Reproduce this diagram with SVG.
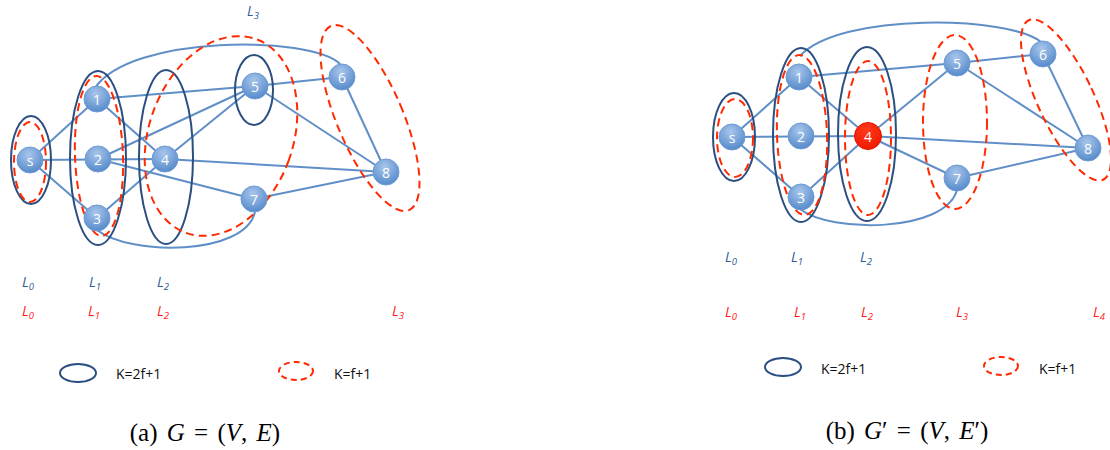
<svg xmlns="http://www.w3.org/2000/svg" width="1110" height="450" viewBox="0 0 1110 450">
<defs>
<radialGradient id="gb" cx="0.45" cy="0.3" r="0.75">
<stop offset="0" stop-color="#a9c6ec"/>
<stop offset="1" stop-color="#4f86c8"/>
</radialGradient>
<radialGradient id="gr" cx="0.45" cy="0.3" r="0.75">
<stop offset="0" stop-color="#ff3a1a"/>
<stop offset="1" stop-color="#f01800"/>
</radialGradient>
</defs>
<style>
.e{fill:none;stroke:#5f8fc6;stroke-width:2}
.kb{fill:none;stroke:#2a4f80;stroke-width:2}
.kr{fill:none;stroke:#ff2a00;stroke-width:2;stroke-dasharray:8 5}
.n circle{fill:url(#gb);stroke:#6e9bd3;stroke-width:1}
.n text{font-family:"Open Sans","Liberation Sans",sans-serif;font-size:14px;fill:#ffffff;text-anchor:middle;dominant-baseline:central}
.nr circle{fill:url(#gr);stroke:#e01500}
.lb{font-family:"Open Sans","Liberation Sans",sans-serif;font-style:italic;font-size:14px;fill:#2e5c98}
.lr{font-family:"Open Sans","Liberation Sans",sans-serif;font-style:italic;font-size:14px;fill:#ff1a1a}
.sub{font-size:9.5px}
.lg{font-family:"Open Sans","Liberation Sans",sans-serif;font-size:14px;fill:#111111;dominant-baseline:central}
.cap{font-family:"Liberation Serif",serif;font-size:25px;fill:#000000;text-anchor:middle;word-spacing:3px}
.it{font-style:italic}
</style>

<!-- ================= Graph (a) ================= -->
<g id="connectors-a">
<line class="e" x1="30" y1="160" x2="97" y2="99"/>
<line class="e" x1="30" y1="160" x2="165" y2="159"/>
<line class="e" x1="30" y1="160" x2="97" y2="218"/>
<line class="e" x1="97" y1="99" x2="255" y2="86"/>
<line class="e" x1="97" y1="99" x2="165" y2="159"/>
<path class="e" d="M95 88 C130 35 310 35 340 64"/>
<line class="e" x1="98" y1="159" x2="255" y2="86"/>
<line class="e" x1="98" y1="159" x2="254" y2="199"/>
<line class="e" x1="97" y1="218" x2="165" y2="159"/>
<path class="e" d="M97 230 C130 256 245 256 255 212"/>
<line class="e" x1="165" y1="159" x2="255" y2="86"/>
<line class="e" x1="165" y1="159" x2="386" y2="172"/>
<line class="e" x1="255" y1="86" x2="342" y2="77"/>
<line class="e" x1="255" y1="86" x2="386" y2="172"/>
<line class="e" x1="342" y1="77" x2="386" y2="172"/>
<line class="e" x1="254" y1="199" x2="386" y2="172"/>
</g>
<g id="groups-a">
<ellipse class="kb" cx="31" cy="160" rx="20" ry="44"/>
<ellipse class="kr" cx="30" cy="162" rx="16" ry="40"/>
<ellipse class="kb" cx="98" cy="158" rx="28" ry="87"/>
<ellipse class="kr" cx="99" cy="156" rx="24" ry="80" transform="rotate(-2 99 156)"/>
<ellipse class="kb" cx="166" cy="157" rx="27" ry="87"/>
<ellipse class="kr" cx="221" cy="136" rx="72" ry="103" transform="rotate(20 221 136)"/>
<ellipse class="kb" cx="254" cy="90" rx="19" ry="35"/>
<ellipse class="kr" cx="370" cy="118" rx="33" ry="100" transform="rotate(-23 370 118)"/>
</g>
<g id="a-s" class="n"><circle cx="30" cy="160" r="13"/><text x="30" y="160">s</text></g>
<g id="a-1" class="n"><circle cx="97" cy="99" r="13"/><text x="97" y="99">1</text></g>
<g id="a-2" class="n"><circle cx="98" cy="159" r="13"/><text x="98" y="159">2</text></g>
<g id="a-3" class="n"><circle cx="97" cy="218" r="13"/><text x="97" y="218">3</text></g>
<g id="a-4" class="n"><circle cx="165" cy="159" r="13"/><text x="165" y="159">4</text></g>
<g id="a-5" class="n"><circle cx="255" cy="86" r="13"/><text x="255" y="86">5</text></g>
<g id="a-6" class="n"><circle cx="342" cy="77" r="13"/><text x="342" y="77">6</text></g>
<g id="a-7" class="n"><circle cx="254" cy="199" r="13"/><text x="254" y="199">7</text></g>
<g id="a-8" class="n"><circle cx="386" cy="172" r="13"/><text x="386" y="172">8</text></g>

<g id="labels-a">
<text class="lb" x="247" y="16">L<tspan class="sub" dy="3">3</tspan></text>
<text class="lb" x="22" y="287">L<tspan class="sub" dy="3">0</tspan></text>
<text class="lb" x="89" y="287">L<tspan class="sub" dy="3">1</tspan></text>
<text class="lb" x="157" y="287">L<tspan class="sub" dy="3">2</tspan></text>
<text class="lr" x="22" y="316">L<tspan class="sub" dy="3">0</tspan></text>
<text class="lr" x="88" y="316">L<tspan class="sub" dy="3">1</tspan></text>
<text class="lr" x="157" y="316">L<tspan class="sub" dy="3">2</tspan></text>
<text class="lr" x="392" y="316">L<tspan class="sub" dy="3">3</tspan></text>
</g>
<g id="legend-a">
<ellipse class="kb" cx="78" cy="373" rx="18" ry="9"/>
<text class="lg" x="116" y="373">K=2f+1</text>
<ellipse class="kr" cx="296" cy="371" rx="17" ry="9" style="stroke-dasharray:6 4"/>
<text class="lg" x="334" y="373">K=f+1</text>
</g>
<text class="cap" x="205" y="441">(a) <tspan class="it">G</tspan> = (<tspan class="it">V</tspan>, <tspan class="it">E</tspan>)</text>

<!-- ================= Graph (b) ================= -->
<g id="connectors-b">
<line class="e" x1="732" y1="137" x2="799" y2="77"/>
<line class="e" x1="732" y1="137" x2="868" y2="136"/>
<line class="e" x1="732" y1="137" x2="801" y2="197"/>
<line class="e" x1="799" y1="77" x2="957" y2="63"/>
<line class="e" x1="799" y1="77" x2="868" y2="136"/>
<path class="e" d="M800 56 C840 12 1010 16 1041 42"/>
<line class="e" x1="801" y1="197" x2="868" y2="136"/>
<path class="e" d="M800 209 C830 233 945 233 957 190"/>
<line class="e" x1="868" y1="136" x2="957" y2="63"/>
<line class="e" x1="868" y1="136" x2="957" y2="178"/>
<line class="e" x1="868" y1="136" x2="1088" y2="148"/>
<line class="e" x1="957" y1="63" x2="1043" y2="54"/>
<line class="e" x1="957" y1="63" x2="1088" y2="148"/>
<line class="e" x1="1043" y1="54" x2="1088" y2="148"/>
<line class="e" x1="957" y1="178" x2="1088" y2="148"/>
</g>
<g id="groups-b">
<ellipse class="kb" cx="734" cy="137" rx="21" ry="44"/>
<ellipse class="kr" cx="735" cy="138" rx="18" ry="39"/>
<ellipse class="kb" cx="801" cy="135" rx="28" ry="87"/>
<ellipse class="kr" cx="802" cy="135" rx="25" ry="80" transform="rotate(-2 802 135)"/>
<ellipse class="kb" cx="867" cy="134" rx="29" ry="87"/>
<ellipse class="kr" cx="868" cy="138" rx="23" ry="77"/>
<ellipse class="kr" cx="955" cy="122" rx="32" ry="87"/>
<ellipse class="kr" cx="1066" cy="100" rx="28" ry="88" transform="rotate(-25 1066 100)"/>
</g>
<g id="b-s" class="n"><circle cx="732" cy="137" r="13"/><text x="732" y="137">s</text></g>
<g id="b-1" class="n"><circle cx="799" cy="77" r="13"/><text x="799" y="77">1</text></g>
<g id="b-2" class="n"><circle cx="801" cy="136" r="13"/><text x="801" y="136">2</text></g>
<g id="b-3" class="n"><circle cx="801" cy="197" r="13"/><text x="801" y="197">3</text></g>
<g id="b-4" class="n nr"><circle cx="868" cy="136" r="13.5"/><text x="868" y="136">4</text></g>
<g id="b-5" class="n"><circle cx="957" cy="63" r="13"/><text x="957" y="63">5</text></g>
<g id="b-6" class="n"><circle cx="1043" cy="54" r="13"/><text x="1043" y="54">6</text></g>
<g id="b-7" class="n"><circle cx="957" cy="178" r="13"/><text x="957" y="178">7</text></g>
<g id="b-8" class="n"><circle cx="1088" cy="148" r="13"/><text x="1088" y="148">8</text></g>

<g id="labels-b">
<text class="lb" x="725" y="262">L<tspan class="sub" dy="3">0</tspan></text>
<text class="lb" x="791" y="262">L<tspan class="sub" dy="3">1</tspan></text>
<text class="lb" x="860" y="262">L<tspan class="sub" dy="3">2</tspan></text>
<text class="lr" x="725" y="317">L<tspan class="sub" dy="3">0</tspan></text>
<text class="lr" x="794" y="317">L<tspan class="sub" dy="3">1</tspan></text>
<text class="lr" x="861" y="317">L<tspan class="sub" dy="3">2</tspan></text>
<text class="lr" x="956" y="317">L<tspan class="sub" dy="3">3</tspan></text>
<text class="lr" x="1093" y="317">L<tspan class="sub" dy="3">4</tspan></text>
</g>
<g id="legend-b">
<ellipse class="kb" cx="783" cy="367" rx="18" ry="9"/>
<text class="lg" x="821" y="368">K=2f+1</text>
<ellipse class="kr" cx="1001" cy="366" rx="17" ry="9" style="stroke-dasharray:6 4"/>
<text class="lg" x="1039" y="368">K=f+1</text>
</g>
<text class="cap" x="907" y="439">(b) <tspan class="it">G</tspan>′ = (<tspan class="it">V</tspan>, <tspan class="it">E</tspan>′)</text>
</svg>
